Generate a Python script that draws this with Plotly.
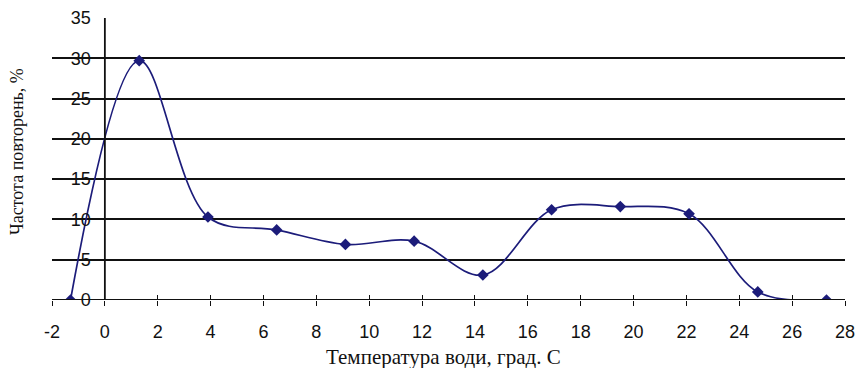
import plotly.graph_objects as go

temperature = [-1.3, 1.3, 3.9, 6.5, 9.1, 11.7, 14.3, 16.9, 19.5, 22.1, 24.7, 27.3]
frequency = [0.0, 29.7, 10.3, 8.7, 6.9, 7.3, 3.1, 11.2, 11.6, 10.7, 1.0, 0.0]
x_ticks = list(range(-2, 29, 2))
y_ticks = list(range(0, 36, 5))

navy = "#1c1c7a"
fig = go.Figure()
fig.add_trace(go.Scatter(
    x=temperature, y=frequency, mode="lines+markers",
    line=dict(color=navy, width=1.7, shape="spline", smoothing=1.0),
    marker=dict(symbol="diamond", size=9, color=navy),
    showlegend=False,
))
fig.add_trace(go.Scatter(x=[None], y=[None], xaxis="x2", yaxis="y", showlegend=False))

W, H = 860, 368
L, R, T, B = 52, 15, 18, 68
pw = W - L - R
ph = H - T - B
y_axis_pos = (0 - (-2)) / 30

fig.update_layout(
    width=W, height=H,
    margin=dict(l=L, r=R, t=T, b=B, autoexpand=False),
    paper_bgcolor="white", plot_bgcolor="white",
    font=dict(family="Liberation Sans, Arial, sans-serif", size=18, color="#111"),
    xaxis=dict(
        range=[-2, 28], tickvals=x_ticks, ticktext=[str(v) for v in x_ticks],
        showgrid=False, zeroline=False, automargin=False,
        showline=False, ticks="outside", ticklen=5, tickwidth=1.3, tickcolor="#111",
        anchor="y", fixedrange=True, ticklabelstandoff=10,
    ),
    xaxis2=dict(
        range=[-2, 28], tickvals=x_ticks, showticklabels=False,
        showgrid=False, zeroline=False, showline=False, automargin=False,
        ticks="inside", ticklen=5, tickwidth=1.3, tickcolor="#111",
        overlaying="x", anchor="y", side="bottom",
    ),
    yaxis=dict(
        range=[0, 35], tickvals=y_ticks, ticktext=[str(v) for v in y_ticks],
        showgrid=True, gridcolor="#111", gridwidth=1.8,
        zeroline=False, showline=False, automargin=False,
        anchor="free", position=y_axis_pos, ticks="", ticklabelstandoff=14,
        fixedrange=True,
    ),
    shapes=[
        dict(type="line", xref="x", yref="y", x0=0, x1=0, y0=0, y1=35,
             line=dict(color="#111", width=1.8)),
        dict(type="line", xref="x", yref="y", x0=-2, x1=28, y0=0, y1=0,
             line=dict(color="#111", width=2)),
    ],
    annotations=[
        dict(text="Температура води, град. С", xref="paper", yref="paper",
             x=(443 - L) / pw, y=-(357 - (H - B)) / ph, xanchor="center", yanchor="middle",
             showarrow=False, font=dict(family="Liberation Serif, Times New Roman, serif", size=21)),
        dict(text="Частота повторень, %", xref="paper", yref="paper",
             x=(17 - L) / pw, y=(H - B - 152) / ph, xanchor="center", yanchor="middle",
             textangle=-90, showarrow=False,
             font=dict(family="Liberation Serif, Times New Roman, serif", size=18)),
    ],
)
fig.write_html(
    "out.html",
    config={"displayModeBar": False},
    post_script="document.body.style.margin='0';document.body.style.overflow='hidden';",
)
